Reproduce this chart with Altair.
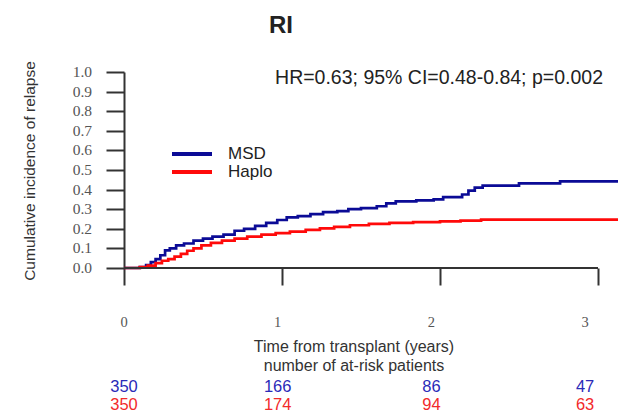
import altair as alt
import pandas as pd

# Cumulative incidence of relapse, step curves by donor type
msd_t = [0, 0.10, 0.14, 0.17, 0.20, 0.23, 0.26, 0.29, 0.33, 0.38, 0.44, 0.50, 0.56, 0.63,
         0.70, 0.76, 0.83, 0.90, 0.97, 1.03, 1.10, 1.18, 1.26, 1.35, 1.42, 1.50, 1.60, 1.66,
         1.72, 1.85, 1.96, 2.02, 2.14, 2.18, 2.22, 2.27, 2.50, 2.76, 3.13]
msd_v = [0, 0.005, 0.015, 0.03, 0.045, 0.065, 0.09, 0.10, 0.115, 0.125, 0.14, 0.15, 0.16, 0.17,
         0.19, 0.20, 0.215, 0.23, 0.245, 0.258, 0.265, 0.275, 0.285, 0.29, 0.30, 0.305, 0.315, 0.33,
         0.34, 0.345, 0.35, 0.362, 0.375, 0.395, 0.41, 0.42, 0.432, 0.442, 0.442]

haplo_t = [0, 0.10, 0.15, 0.20, 0.24, 0.28, 0.32, 0.36, 0.40, 0.44, 0.49, 0.55, 0.62, 0.70,
           0.78, 0.87, 0.96, 1.05, 1.15, 1.24, 1.33, 1.43, 1.55, 1.68, 1.83, 2.00, 2.13, 2.26, 3.13]
haplo_v = [0, 0.005, 0.012, 0.025, 0.037, 0.045, 0.058, 0.072, 0.088, 0.10, 0.115, 0.128, 0.14, 0.15,
           0.16, 0.17, 0.178, 0.186, 0.195, 0.202, 0.21, 0.218, 0.225, 0.23, 0.234, 0.238, 0.242, 0.247, 0.247]

# Number at risk at each year
risk_years = [0, 1, 2, 3]
risk_msd = [350, 166, 86, 47]
risk_haplo = [350, 174, 94, 63]

# y-axis ticks
y_ticks = [i / 10 for i in range(11)]

groups = ["MSD", "Haplo"]
colors = ["#0b0b96", "#ff0a0a"]

curves = pd.DataFrame(
    {"t": msd_t + haplo_t,
     "v": msd_v + haplo_v,
     "group": ["MSD"] * len(msd_t) + ["Haplo"] * len(haplo_t)}
)
risk = pd.DataFrame({"t": risk_years, "label": [str(y) for y in risk_years],
                     "msd": risk_msd, "haplo": risk_haplo})
yt = pd.DataFrame({"v": y_ticks, "label": [f"{v:.1f}" for v in y_ticks]})

W, H = 494, 196
XMAX = W / 158.0
x_scale = alt.Scale(domain=[0, XMAX], nice=False)
y_scale = alt.Scale(domain=[0, 1], nice=False)
color_scale = alt.Scale(domain=groups, range=colors)

lines = alt.Chart(curves).mark_line(interpolate="step-after", strokeWidth=2.7).encode(
    x=alt.X("t:Q", scale=x_scale,
            axis=alt.Axis(values=risk_years, domain=False, labels=False, tickSize=17,
                          tickWidth=2, tickColor="#333", grid=False, title=None)),
    y=alt.Y("v:Q", scale=y_scale,
            axis=alt.Axis(values=y_ticks, labels=False, grid=False, title=None,
                          tickSize=18, tickWidth=2, tickColor="#333", domainColor="#333",
                          domainWidth=2)),
    color=alt.Color("group:N", scale=color_scale, legend=None),
)

# y tick labels in a serif face
y_lbl = alt.Chart(yt).mark_text(font="Liberation Serif", fontSize=15.5, color="#555",
                                align="right", baseline="middle").encode(
    x=alt.value(-32), y=alt.Y("v:Q", scale=y_scale, axis=None), text="label:N")

# x-axis baseline from 0 to 3 years
x_line = alt.Chart(pd.DataFrame({"a": [0], "b": [3], "y": [0]})).mark_rule(
    color="#333", strokeWidth=2).encode(
    x=alt.X("a:Q", scale=x_scale, axis=None), x2="b:Q",
    y=alt.Y("y:Q", scale=y_scale, axis=None))

# Legend drawn in the upper-left of the panel
leg = pd.DataFrame({"group": groups, "row": [0, 1]})
leg_y = alt.Y("row:Q", axis=None, scale=alt.Scale(domain=[0, 1], range=[82, 100]))
leg_lines = alt.Chart(leg).mark_rule(strokeWidth=4).encode(
    x=alt.value(48), x2=alt.value(88), y=leg_y,
    color=alt.Color("group:N", scale=color_scale, legend=None),
)
leg_text = alt.Chart(leg).mark_text(align="left", baseline="middle", font="Liberation Sans",
                                    fontSize=17, color="#222").encode(
    x=alt.value(104), y=leg_y, text="group:N",
)

fs = alt.Scale(domain=[0, W / 153.7], nice=False)
base_txt = alt.Chart(risk)
tick_lbl = base_txt.mark_text(font="Liberation Serif", fontSize=14.5, color="#555",
                              baseline="middle").encode(
    x=alt.X("t:Q", scale=fs, axis=None), y=alt.value(251), text="label:N")
msd_lbl = base_txt.mark_text(font="Liberation Sans", fontSize=16.5, color="#2a2ab8",
                             baseline="middle").encode(
    x=alt.X("t:Q", scale=fs, axis=None), y=alt.value(315), text="msd:Q")
haplo_lbl = base_txt.mark_text(font="Liberation Sans", fontSize=16.5, color="#f22a2a",
                               baseline="middle").encode(
    x=alt.X("t:Q", scale=fs, axis=None), y=alt.value(333), text="haplo:Q")

notes = pd.DataFrame({
    "txt": ["Time from transplant (years)", "number of at-risk patients"],
    "py": [275, 294],
})
x_titles = alt.Chart(notes).mark_text(font="Liberation Sans", fontSize=16, color="#333",
                                      baseline="middle").encode(
    x=alt.value(230), y=alt.Y("py:Q", scale=None, axis=None), text="txt:N")

y_title = alt.Chart(pd.DataFrame({"txt": ["Cumulative incidence of relapse"]})).mark_text(
    font="Liberation Sans", fontSize=15.5, color="#333", angle=270, baseline="middle").encode(
    x=alt.value(-94), y=alt.value(99), text="txt:N")

hr = alt.Chart(pd.DataFrame({"txt": ["HR=0.63; 95% CI=0.48-0.84; p=0.002"]})).mark_text(
    font="Liberation Sans", fontSize=19.5, color="#222", align="right", baseline="middle").encode(
    x=alt.value(479), y=alt.value(6), text="txt:N")

title = alt.Chart(pd.DataFrame({"txt": ["RI"]})).mark_text(
    font="Liberation Sans", fontSize=24, fontWeight="bold", color="#222", baseline="middle").encode(
    x=alt.value(157), y=alt.value(-46), text="txt:N")

chart = alt.layer(
    lines, y_lbl, x_line, leg_lines, leg_text, tick_lbl, msd_lbl, haplo_lbl,
    x_titles, y_title, hr, title
).resolve_scale(x="independent", y="independent").properties(
    width=W, height=H,
    padding={"left": 124, "top": 72, "right": 0, "bottom": 148},
    autosize=alt.AutoSizeParams(type="none"),
    background="white",
).configure_view(stroke=None)

chart.save("out.html", embed_options={"renderer": "svg", "actions": False})
